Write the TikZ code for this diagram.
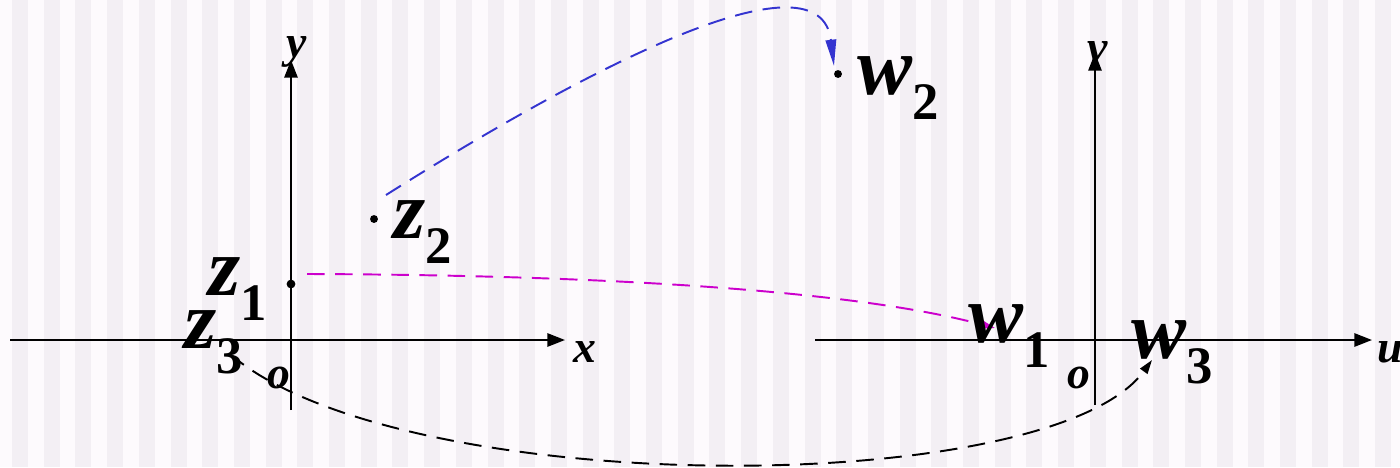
\documentclass[tikz,border=0pt]{standalone}
\usepackage{fontspec}
\setmainfont{Liberation Serif}
\usetikzlibrary{arrows.meta,positioning}
\definecolor{stripe}{HTML}{F3EFF4}
\definecolor{paper}{HTML}{FDFAFD}
\definecolor{bl}{HTML}{3434D0}
\definecolor{mg}{HTML}{CC00CC}
\newcommand{\zsub}[2]{#1\raisebox{-0.3em}{\fontsize{30}{30}\selectfont\upshape #2}}

\begin{document}
\begin{tikzpicture}[x=0.02cm,y=-0.02cm,
  font=\fontsize{47}{47}\selectfont\bfseries\itshape,
  axis/.style={line width=1.2pt,-{Triangle[length=10pt,width=7.5pt]}},
  axlbl/.style={inner sep=0pt,font=\fontsize{26}{26}\selectfont\bfseries\itshape},
  lbl/.style={inner sep=0pt},
  dot/.style={circle,fill=black,inner sep=0pt,minimum size=4.5pt},
  map/.style={line width=1.1pt,dash pattern=on 10pt off 6pt}]
  % background
  \fill[paper] (0,0) rectangle (1400,467);
  \foreach \i in {0,...,43}
    \fill[stripe] (12+31.7*\i,0) rectangle ++(16,467);
  \useasboundingbox (0,0) rectangle (1400,467);
  % axis labels
  \node[axlbl] (ylbl) at (297,52) {y};
  \node[axlbl] (xlbl) at (585,352) {x};
  \node[axlbl] (olbl) at (279,378) {o};
  \node[axlbl] (vlbl) at (1098,52) {v};
  \node[axlbl] (ulbl) at (1390,352) {u};
  \node[axlbl] (olbr) at (1079,378) {o};
  % z-plane and w-plane
  \draw[axis] (10,340) -- (565,340);
  \draw[axis] (291,410) -- (291,60);
  \draw[axis] (815,340) -- (1372,340);
  \draw[axis] (1095,405) -- (1095,53);
  % points
  \node[dot,minimum size=5pt] (z1) at (291,284) {};
  \node[dot] (z2) at (374,219) {};
  \node[dot] (w2) at (838,74) {};
  \coordinate (z3) at (230,354);
  \coordinate (w1) at (995,328);
  \coordinate (w3) at (1152,360);
  % images
  \draw[map,bl,-{Triangle[length=15pt,width=6pt]}] ([shift={(12,-24)}]z2.center)
    .. controls (600,60) and (820,-50) .. ([shift={(-4,-8)}]w2.center);
  \draw[map,mg,-{Triangle[length=10pt,width=6pt]}] ([shift={(16,-10)}]z1.center)
    .. controls (600,275) and (850,290) .. (w1);
  \draw[map,black,-{Triangle[length=8pt,width=5pt]}] (z3)
    .. controls (400,500) and (1050,500) .. (w3);
  % labels
  \node[lbl] (z1lbl) at (238,289) {\zsub{z}{1}};
  \node[lbl] (z2lbl) at (423,232) {\zsub{z}{2}};
  \node[lbl] (z3lbl) at (214,342) {\zsub{z}{3}};
  \node[lbl] (w1lbl) at (1009,336) {\zsub{w}{1}};
  \node[lbl] (w2lbl) at (898,88) {\zsub{w}{2}};
  \node[lbl] (w3lbl) at (1172,352) {\zsub{w}{3}};
\end{tikzpicture}
\end{document}
